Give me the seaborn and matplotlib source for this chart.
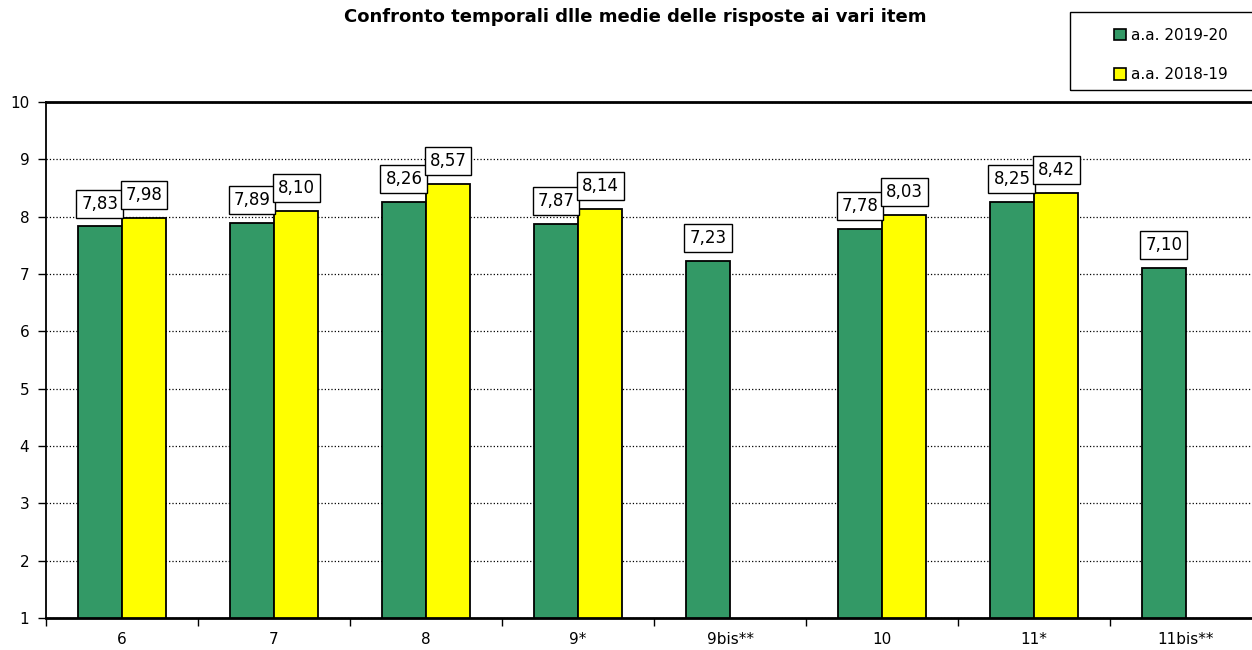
import numpy as np
import pandas as pd
import seaborn as sns
import matplotlib.pyplot as plt
from matplotlib.patches import Patch, Rectangle
from matplotlib.ticker import FixedLocator

# dati del grafico
item = ["6", "7", "8", "9*", "9bis**", "10", "11*", "11bis**"]
media_2019_20 = [7.83, 7.89, 8.26, 7.87, 7.23, 7.78, 8.25, 7.10]
media_2018_19 = [7.98, 8.10, 8.57, 8.14, np.nan, 8.03, 8.42, np.nan]
anni = ["a.a. 2019-20", "a.a. 2018-19"]
colori = ["#339966", "#FFFF00"]

# tabella lunga per seaborn
df = pd.DataFrame({
    "item": item * 2,
    "media": media_2019_20 + media_2018_19,
    "anno": [anni[0]] * len(item) + [anni[1]] * len(item),
})
df = df.dropna()

sns.set_style("white")
plt.rcParams["font.family"] = ["DejaVu Sans"]
plt.rcParams["text.color"] = "black"
plt.rcParams["xtick.color"] = "black"
plt.rcParams["ytick.color"] = "black"

W, H = 1252, 650
fig = plt.figure(figsize=(W / 100, H / 100), dpi=100)
ax = fig.add_axes([46 / W, 1 - 618 / H, 1216 / W, 516 / H])

sns.barplot(data=df, x="item", y="media", hue="anno", order=item, hue_order=anni,
            palette=colori, width=0.58, gap=0, edgecolor="black", linewidth=1.3,
            saturation=1, legend=False, ax=ax)

# etichette con la virgola decimale
for c in ax.containers:
    ax.bar_label(c, fmt=lambda v: f"{v:.2f}".replace(".", ","), padding=10,
                 fontsize=12,
                 bbox=dict(boxstyle="square,pad=0.3", fc="white", ec="black", lw=1))

ax.set_ylim(1, 10)
ax.set_yticks(range(1, 11))
ax.set_xlim(-0.5, 7.5)
ax.set_xlabel("")
ax.set_ylabel("")
ax.yaxis.grid(True, linestyle=":", color="black", linewidth=0.9)
ax.set_axisbelow(True)

ax.tick_params(axis="y", left=True, length=6, width=1, labelsize=11, pad=6)
ax.tick_params(axis="x", which="major", bottom=True, length=0, labelsize=11, pad=10)
ax.xaxis.set_minor_locator(FixedLocator(np.arange(-0.5, 8, 1)))
ax.tick_params(axis="x", which="minor", bottom=True, length=6, width=1)

for s in ["top", "bottom"]:
    ax.spines[s].set_linewidth(2)
ax.spines["left"].set_linewidth(1.3)
ax.spines["right"].set_visible(False)
for s in ax.spines.values():
    s.set_color("black")

fig.text(635 / W, 1 - 17 / H, "Confronto temporali dlle medie delle risposte ai vari item",
         ha="center", va="center", fontsize=13, fontweight="bold")

# legenda
fig.patches.append(Rectangle((1070 / W, 1 - 90 / H), 200 / W, 78 / H,
                             transform=fig.transFigure, fill=False, ec="black", lw=1))
handles = [Patch(fc=c, ec="black", lw=1.2) for c in colori]
fig.legend(handles, anni, loc="upper left", bbox_to_anchor=(1100 / W, 1 - 14 / H),
           frameon=False, fontsize=11, handlelength=0.8, handleheight=0.8,
           handletextpad=0.3, labelspacing=1.6)

plt.savefig("out.png", dpi=100)
plt.close()
